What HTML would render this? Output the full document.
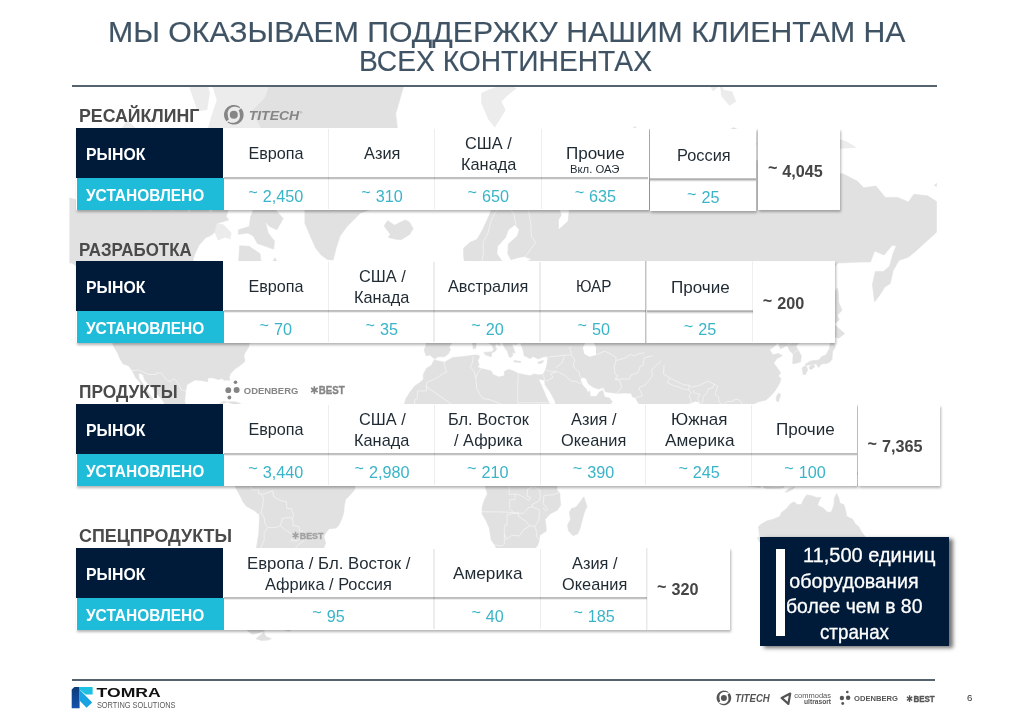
<!DOCTYPE html>
<html lang="ru"><head><meta charset="utf-8"><title>TOMRA Sorting Solutions</title>
<style>
html,body{margin:0;padding:0;background:#fff;}
body{width:1010px;height:716px;position:relative;overflow:hidden;font-family:"Liberation Sans",sans-serif;}
.t{position:absolute;white-space:pre;line-height:1;transform-origin:0 50%;}
.b{position:absolute;}
svg{position:absolute;left:0;top:0;}
</style></head><body>
<svg width="1010" height="716" viewBox="0 0 1010 716">
<defs><clipPath id="mc"><rect x="69.4" y="86.5" width="867.4" height="592.5"/></clipPath></defs>
<g clip-path="url(#mc)">
<path fill="#ececec" d="M214.0 231.1 L218.0 240.4 L224.8 237.4 L230.2 239.2 L231.6 233.0 L223.5 224.6 L217.2 223.3Z M132.6 195.8 L143.4 205.0 L157.0 203.5 L167.8 205.0 L174.6 197.4 L166.5 186.1 L165.1 170.4 L157.0 165.7 L146.1 172.2 L133.9 166.7 L128.5 175.8 L132.6 186.1Z M109.5 177.6 L116.3 184.4 L124.4 181.9 L129.9 171.3 L132.6 157.0 L121.7 153.0 L112.2 159.0Z M173.3 181.9 L184.1 183.6 L188.2 173.1 L186.8 160.9 L178.7 159.0 L171.9 168.5Z M190.9 177.6 L196.3 177.6 L205.8 168.5 L204.5 159.0 L190.9 159.0Z M200.4 151.9 L219.4 154.0 L233.0 153.0 L234.3 143.5 L222.1 133.4 L208.5 133.4 L200.4 140.2Z M132.6 148.8 L146.1 154.0 L162.4 150.9 L163.8 138.0 L154.3 128.8 L140.7 133.4 L131.2 135.7Z M167.8 146.7 L181.4 148.8 L185.5 138.0 L178.7 128.8 L167.8 131.1Z M205.8 135.7 L219.4 134.6 L233.0 135.7 L239.7 123.9 L243.8 107.2 L254.7 92.9 L270.9 72.3 L281.8 50.5 L265.5 29.7 L238.4 27.4 L211.3 44.5 L200.4 65.3 L211.3 82.1 L216.7 100.2 L211.3 116.4Z M189.6 88.4 L197.7 111.2 L207.2 109.9 L209.9 92.9 L203.1 68.8 L192.3 68.8Z M116.3 135.7 L128.5 141.3 L136.6 128.8 L127.2 120.2Z M227.5 134.6 L270.9 134.6 L292.6 50.5 L243.8 40.4Z M481.2 103.0 L488.0 119.0 L494.8 127.6 L500.2 119.0 L505.6 109.9 L501.5 101.6 L507.0 95.9 L516.5 88.4 L507.0 82.1 L496.1 86.9 L488.0 89.9 L481.2 92.9Z M705.0 78.9 L713.2 91.4 L721.3 83.7 L718.6 75.6 L721.3 95.9 L729.4 105.8 L736.2 101.6 L732.2 91.4 L724.0 89.9 L713.2 70.6Z M577.5 75.6 L591.1 85.3 L604.6 80.5 L618.2 72.3 L607.4 59.9 L585.6 68.8Z M821.7 145.6 L832.5 160.0 L840.7 148.8 L857.0 147.8 L846.1 141.3 L832.5 136.9Z"/>
<path fill="#e1e1e1" stroke="#e1e1e1" stroke-width="0.6" stroke-linejoin="round" d="M-5.8 225.9 L-0.4 207.2 L7.8 202.0 L25.4 183.6 L43.1 190.2 L67.5 197.4 L83.7 202.0 L94.6 194.2 L102.7 192.6 L110.9 198.2 L124.4 198.2 L138.0 209.4 L151.6 210.8 L157.0 205.7 L165.1 209.4 L173.3 210.8 L184.1 205.7 L189.6 213.0 L190.9 202.0 L189.6 186.1 L193.6 177.6 L197.7 186.1 L200.4 198.2 L205.8 205.7 L211.3 213.0 L214.0 203.5 L218.0 196.6 L227.5 195.8 L229.4 205.7 L226.2 216.5 L228.9 219.9 L222.1 221.9 L216.7 223.3 L214.0 233.0 L209.9 236.1 L205.8 237.4 L199.0 245.2 L195.0 253.8 L193.1 259.3 L193.6 265.7 L199.0 274.9 L208.5 277.3 L219.4 283.2 L226.7 284.6 L227.5 293.8 L231.6 301.3 L235.7 300.5 L235.7 286.9 L241.1 279.8 L242.5 269.8 L238.4 264.6 L239.7 245.8 L249.2 246.3 L260.1 253.8 L261.4 264.6 L265.5 268.3 L272.3 262.0 L275.0 257.7 L281.8 272.4 L287.2 282.2 L294.0 286.9 L298.1 296.1 L298.1 300.5 L289.9 305.6 L279.1 306.1 L269.6 306.1 L262.8 313.1 L257.4 320.0 L265.5 312.7 L270.9 310.2 L275.6 311.9 L273.7 317.2 L275.0 322.3 L283.2 323.9 L287.2 320.0 L285.9 324.7 L277.7 328.5 L272.0 332.7 L270.4 329.7 L275.0 325.8 L268.2 327.0 L260.1 331.9 L258.2 336.4 L260.1 339.3 L256.0 340.4 L249.2 343.3 L248.7 347.2 L245.2 352.4 L243.8 355.8 L244.9 361.5 L239.7 365.8 L234.9 369.1 L230.2 373.9 L229.2 377.7 L232.4 387.9 L232.4 393.0 L229.7 393.3 L225.6 385.4 L225.6 381.7 L222.1 378.6 L218.0 379.6 L212.6 377.7 L207.7 378.0 L207.7 381.7 L203.1 380.8 L195.0 379.9 L186.8 384.8 L185.5 392.4 L184.7 401.3 L186.3 407.2 L189.6 411.5 L193.6 413.8 L200.4 412.6 L203.7 410.6 L204.7 405.7 L214.0 404.3 L212.6 411.5 L210.7 415.8 L209.9 420.3 L216.7 420.6 L224.0 422.8 L223.2 429.8 L223.2 434.2 L226.7 439.2 L233.0 438.9 L235.7 438.1 L240.0 440.6 L240.3 442.5 L237.8 441.4 L234.3 439.8 L231.9 444.1 L228.1 442.2 L224.8 441.4 L219.4 436.7 L217.2 434.2 L212.6 428.4 L207.2 427.0 L201.8 425.6 L196.3 420.6 L192.3 419.7 L186.8 420.3 L179.2 417.8 L173.3 414.3 L166.5 410.9 L163.5 407.2 L164.3 402.8 L161.1 398.4 L155.6 392.4 L152.9 388.5 L148.9 384.8 L144.8 380.2 L142.9 374.5 L138.5 372.9 L139.1 378.6 L144.0 385.4 L148.0 392.4 L150.8 396.3 L152.9 399.3 L151.0 399.9 L146.1 394.5 L145.3 390.3 L139.9 386.4 L140.7 383.3 L135.8 377.7 L132.3 370.7 L128.5 365.8 L122.8 363.8 L119.3 357.2 L117.7 353.1 L114.1 347.2 L112.8 344.0 L113.0 334.5 L113.6 322.3 L111.7 313.5 L116.3 311.1 L110.9 305.6 L105.4 302.6 L102.7 296.1 L97.3 286.9 L93.2 282.2 L87.8 269.8 L82.4 263.6 L77.0 266.2 L71.5 263.0 L64.8 262.5 L59.3 259.3 L52.5 253.8 L47.1 258.2 L43.1 252.7 L39.0 262.0 L32.2 264.6 L26.8 272.4 L20.0 278.3 L11.9 283.6 L5.1 286.5 L10.5 279.8 L15.9 272.4 L21.3 266.7 L14.6 265.7 L10.5 262.0 L5.1 256.6 L-0.4 249.2 L2.4 242.2 L13.2 237.4 L13.2 232.4 L3.7 233.0Z M115.5 313.5 L110.9 311.9 L102.2 303.9 L108.2 305.2 L113.6 309.8Z M289.1 316.8 L298.1 320.0 L306.2 320.4 L307.0 316.8 L304.0 309.8 L299.4 307.7 L299.4 300.5 L295.4 302.6 L292.6 309.0 L289.4 313.1Z M283.2 218.6 L276.9 229.8 L269.6 226.6 L265.5 221.9 L268.2 233.0 L274.5 241.0 L273.7 249.2 L265.5 246.3 L257.4 243.4 L253.3 236.1 L247.9 233.0 L238.4 234.3 L238.4 229.8 L249.2 226.6 L250.6 216.5 L253.3 210.8 L246.5 205.7 L237.0 194.2 L227.5 195.0 L219.4 194.2 L211.3 190.2 L207.2 181.9 L208.5 168.5 L216.7 160.9 L227.5 161.9 L231.6 173.1 L241.1 173.1 L243.8 181.9 L254.7 181.9 L262.8 190.2 L266.9 202.0 L276.4 210.8Z M252.0 111.2 L265.5 135.7 L260.1 138.0 L270.9 141.3 L291.3 146.7 L299.4 173.1 L303.5 190.2 L311.6 195.8 L304.9 205.7 L304.9 223.3 L310.3 236.1 L315.7 248.1 L321.1 254.9 L327.9 259.8 L333.3 259.8 L336.1 248.1 L340.1 236.1 L346.9 226.6 L360.5 213.0 L376.7 207.2 L389.0 194.2 L383.5 181.9 L390.3 174.9 L393.0 154.0 L398.5 138.0 L395.7 113.8 L403.9 85.3 L417.4 59.9 L393.0 40.4 L363.2 18.1 L327.9 34.0 L300.8 44.5 L281.8 63.6 L270.9 82.1 L265.5 97.3Z M384.1 225.9 L390.3 234.3 L388.4 237.4 L395.7 239.2 L401.2 239.8 L409.8 234.3 L413.1 228.5 L409.3 221.9 L405.2 219.9 L399.8 222.6 L394.4 225.3 L391.7 223.3 L387.6 220.6Z M219.4 403.4 L225.4 400.4 L231.6 399.6 L239.7 403.4 L248.7 408.0 L239.7 408.9 L238.4 406.6 L231.6 403.4 L227.5 401.9 L222.1 403.4Z M248.2 413.2 L252.0 408.9 L256.0 408.9 L261.4 410.3 L264.4 412.6 L260.1 413.5 L255.5 415.2 L252.5 413.5Z M237.6 413.5 L241.1 412.9 L243.3 414.3 L239.7 414.9Z M267.7 412.9 L271.8 413.2 L271.5 414.3 L267.7 414.3Z M240.0 440.6 L241.6 442.2 L245.2 435.1 L248.7 433.7 L253.3 431.8 L256.0 430.1 L256.6 434.0 L254.9 438.1 L257.4 437.3 L260.1 432.3 L264.7 434.8 L270.9 435.1 L276.4 435.9 L281.8 434.8 L284.5 438.7 L287.2 440.9 L291.3 445.0 L295.4 448.0 L303.5 448.2 L308.9 451.5 L311.6 453.1 L314.4 459.1 L313.0 464.0 L318.4 465.4 L319.8 468.1 L327.9 468.1 L329.8 470.8 L337.4 471.9 L344.2 473.8 L349.6 477.0 L354.5 478.7 L355.6 484.4 L354.5 489.9 L349.6 495.4 L345.5 499.6 L344.2 506.6 L343.7 513.1 L341.5 519.4 L338.8 525.2 L336.1 528.1 L329.3 528.7 L326.6 531.7 L323.8 536.5 L325.7 543.2 L323.0 549.4 L315.7 555.7 L304.9 562.2 L300.8 565.1 L295.4 563.8 L291.6 562.2 L294.8 569.8 L293.2 576.3 L281.8 579.1 L281.0 585.4 L273.7 586.2 L276.4 591.6 L272.8 595.3 L272.3 601.0 L266.9 604.9 L271.5 612.0 L266.9 619.0 L262.8 625.4 L264.4 631.1 L257.4 633.3 L252.0 634.2 L246.5 629.7 L245.2 621.1 L245.2 610.8 L249.2 604.9 L250.6 595.3 L249.2 588.0 L250.6 580.8 L250.6 572.9 L253.3 565.5 L255.5 558.9 L256.0 551.0 L257.4 541.6 L258.7 534.1 L259.3 522.3 L259.3 514.8 L254.7 510.8 L246.5 506.3 L243.0 501.8 L240.6 496.8 L237.0 489.9 L233.5 483.6 L229.7 480.3 L229.4 475.7 L232.1 473.2 L230.5 470.0 L231.6 465.4 L233.0 461.8 L236.2 459.9 L237.0 456.9 L240.3 453.7 L239.7 449.1 L240.3 445.0Z M263.9 632.4 L258.7 636.5 L256.0 638.7 L261.4 640.6 L268.2 640.1 L271.5 638.7 L266.9 636.9 L265.0 635.1Z M284.0 628.4 L288.6 626.7 L293.2 628.0 L289.9 631.1 L285.0 630.6Z M434.0 359.9 L444.6 362.2 L452.7 357.5 L463.6 356.5 L474.4 355.1 L477.9 355.1 L479.8 356.5 L477.7 360.9 L479.3 365.2 L477.1 366.5 L480.4 368.4 L485.3 369.4 L491.2 371.0 L492.9 374.5 L498.8 377.0 L504.3 375.8 L504.3 371.6 L508.3 369.4 L512.9 370.7 L517.8 373.2 L524.6 374.8 L530.0 375.8 L534.1 373.9 L537.6 374.8 L542.8 374.5 L538.4 378.9 L541.2 384.8 L546.3 396.9 L550.4 405.7 L551.2 411.5 L554.7 414.3 L557.2 421.4 L561.8 424.2 L566.7 429.5 L567.5 432.6 L570.7 435.4 L577.5 433.4 L582.9 433.1 L588.9 431.5 L588.4 435.6 L585.1 442.2 L580.2 450.4 L574.8 457.2 L568.0 462.6 L562.6 468.9 L559.1 472.1 L556.6 477.0 L555.3 481.7 L557.2 485.8 L556.9 489.9 L559.9 493.2 L560.1 499.6 L560.7 505.2 L557.2 510.2 L550.4 513.7 L545.0 519.4 L546.0 525.8 L546.3 531.1 L539.5 535.6 L539.3 540.1 L537.6 545.6 L534.1 549.4 L530.8 554.1 L526.0 558.9 L519.7 562.2 L511.0 562.8 L504.3 564.8 L499.9 563.2 L499.4 557.3 L497.5 551.0 L494.8 545.0 L491.2 540.1 L489.3 528.1 L486.1 520.8 L482.0 513.7 L482.0 508.0 L483.9 501.0 L487.4 494.0 L485.8 488.5 L483.4 480.3 L482.0 476.2 L475.8 470.0 L474.4 466.2 L475.8 461.3 L476.6 455.9 L474.1 451.8 L469.0 452.1 L464.9 448.8 L461.9 446.9 L456.8 446.9 L452.7 448.0 L444.8 451.0 L439.1 449.9 L429.7 452.1 L425.6 450.4 L418.8 445.2 L413.9 440.9 L413.9 438.1 L409.3 434.5 L404.4 430.4 L404.4 427.9 L402.5 423.7 L405.2 420.0 L405.8 411.5 L403.9 405.7 L406.0 398.4 L409.8 392.4 L414.7 386.0 L419.3 383.0 L423.4 379.2 L423.4 373.9 L426.7 368.1 L431.6 365.2Z M583.8 496.8 L587.0 506.6 L584.3 512.2 L582.4 519.4 L579.7 529.6 L577.5 534.1 L572.9 535.6 L568.6 531.1 L567.5 525.2 L570.5 519.4 L569.4 512.2 L571.5 508.5 L576.2 506.9 L580.2 501.8Z M424.8 333.8 L426.1 338.2 L426.1 344.7 L424.2 350.0 L426.1 355.8 L429.9 355.1 L432.9 357.5 L434.8 359.2 L437.8 356.8 L444.3 356.8 L448.4 353.8 L450.5 349.6 L449.2 347.2 L452.2 341.8 L458.7 338.6 L458.4 333.8 L463.0 333.1 L467.6 334.2 L473.9 329.3 L477.9 332.7 L479.8 336.8 L484.2 340.4 L488.5 342.6 L492.3 345.4 L493.4 349.6 L492.3 352.4 L494.8 351.7 L496.7 348.9 L495.0 346.1 L496.1 343.6 L499.9 345.4 L500.2 343.6 L494.8 340.0 L493.4 338.6 L489.9 337.5 L486.9 332.3 L483.6 330.0 L483.4 325.8 L486.9 324.3 L487.2 327.4 L491.2 329.7 L494.8 333.1 L500.2 336.8 L502.6 339.7 L502.9 344.3 L504.8 347.9 L507.5 351.4 L508.9 356.5 L511.0 357.5 L512.9 354.8 L512.4 352.4 L515.1 353.1 L513.8 348.9 L511.9 344.0 L515.7 344.7 L520.5 342.6 L521.1 344.7 L523.3 350.7 L524.1 355.8 L526.5 356.8 L530.0 358.5 L533.3 356.5 L538.2 358.9 L543.6 356.8 L547.7 356.5 L547.4 362.5 L546.3 367.4 L544.7 371.6 L542.8 374.5 L538.4 378.9 L544.7 380.2 L545.0 384.8 L549.8 391.5 L554.5 399.9 L556.3 405.7 L560.7 411.5 L564.8 418.6 L566.7 425.6 L568.0 429.3 L572.1 429.0 L580.2 425.6 L591.1 421.4 L599.2 416.3 L606.0 411.5 L612.2 401.6 L609.5 398.1 L604.6 396.9 L602.7 390.3 L599.2 392.1 L596.5 396.3 L590.3 396.6 L589.7 390.9 L587.8 392.4 L586.2 389.1 L582.4 384.8 L580.2 379.2 L582.9 377.4 L586.2 378.6 L588.4 383.9 L593.2 387.3 L598.7 389.1 L603.3 387.6 L605.5 391.8 L611.4 392.7 L617.4 393.3 L625.0 393.0 L631.0 393.3 L632.6 396.9 L635.3 397.8 L637.7 401.9 L641.0 406.3 L646.1 405.7 L647.2 411.5 L648.9 418.6 L651.6 425.6 L654.3 432.6 L657.5 439.5 L660.3 442.0 L662.4 439.5 L665.1 435.9 L667.0 429.8 L667.6 422.8 L672.5 418.6 L677.9 413.5 L683.3 408.6 L686.0 404.3 L691.5 402.8 L695.5 401.3 L699.1 401.9 L700.4 406.3 L705.0 412.9 L706.1 420.0 L710.4 418.6 L714.5 418.6 L715.9 425.6 L717.2 434.0 L716.7 440.9 L721.3 446.3 L722.4 453.1 L724.8 456.7 L730.8 460.2 L732.7 457.2 L730.5 451.8 L727.3 447.1 L724.0 445.0 L721.3 440.9 L719.4 438.7 L721.3 429.8 L723.7 427.3 L726.7 429.8 L729.4 434.0 L734.3 435.9 L734.9 440.3 L739.5 435.9 L744.4 433.7 L746.5 428.4 L745.4 421.4 L741.6 417.2 L737.0 411.5 L739.5 406.3 L744.4 403.7 L747.9 404.3 L749.2 407.7 L753.3 404.0 L759.3 401.6 L766.1 399.9 L771.5 395.1 L775.0 390.9 L779.6 383.3 L781.0 378.6 L778.3 376.1 L780.7 372.9 L776.9 367.4 L773.7 363.2 L776.9 358.5 L782.3 355.8 L778.3 353.4 L772.8 354.8 L769.6 349.6 L773.4 347.2 L778.3 342.6 L780.4 348.9 L787.2 345.4 L789.7 350.7 L793.2 354.1 L792.7 363.8 L795.9 363.2 L800.5 361.9 L801.3 355.8 L798.6 350.7 L795.9 346.1 L801.9 340.0 L804.6 336.8 L809.5 333.8 L817.6 328.9 L824.4 319.2 L830.6 309.0 L831.7 298.3 L833.3 292.5 L829.0 288.3 L823.0 289.3 L817.1 285.5 L823.0 277.3 L831.2 269.8 L838.0 263.0 L848.8 262.5 L861.0 262.0 L870.5 262.0 L874.6 251.0 L884.1 254.9 L892.2 245.2 L896.3 245.8 L893.0 253.8 L889.5 266.2 L883.5 271.4 L875.4 271.4 L872.4 284.6 L874.6 301.8 L880.0 294.7 L884.9 286.9 L890.3 283.6 L893.0 270.8 L899.0 260.4 L908.5 257.1 L916.6 250.4 L924.8 242.8 L932.9 235.5 L941.1 227.9 L951.9 231.7 L960.0 234.3 L966.3 223.3 L960.0 216.5 L951.9 212.3 L939.7 203.5 L927.5 195.8 L913.9 194.2 L908.5 202.0 L897.6 197.4 L885.4 197.4 L875.9 186.1 L863.7 187.8 L857.0 181.0 L843.4 174.0 L829.8 172.2 L819.0 181.9 L806.8 186.1 L801.3 179.3 L794.6 163.8 L782.3 168.5 L770.1 162.9 L757.9 160.9 L751.1 157.0 L756.6 143.5 L748.4 134.6 L733.5 127.6 L721.3 134.6 L707.7 136.9 L688.7 144.6 L684.7 159.0 L669.8 162.9 L668.4 174.9 L658.9 177.6 L652.1 170.4 L647.5 184.4 L644.8 170.4 L637.2 168.5 L631.8 186.1 L630.4 199.7 L635.3 206.5 L625.0 199.7 L614.1 195.8 L607.4 203.5 L597.9 207.2 L589.7 205.7 L576.2 207.9 L569.9 205.7 L568.0 221.3 L558.5 229.8 L558.5 219.9 L561.2 215.1 L559.9 210.8 L549.0 200.5 L539.5 198.2 L534.1 191.8 L527.3 186.1 L519.7 185.3 L509.7 191.8 L501.5 195.8 L493.4 205.7 L488.0 217.9 L482.6 229.8 L477.1 239.2 L470.3 242.2 L463.6 248.1 L463.6 256.6 L464.9 264.6 L469.0 269.8 L473.1 268.3 L478.5 263.0 L480.4 265.7 L482.6 272.4 L484.7 279.8 L485.3 282.7 L488.8 281.7 L493.4 278.3 L495.0 272.4 L497.5 265.7 L501.5 260.4 L496.9 253.8 L497.5 246.3 L505.6 237.4 L508.3 229.8 L515.1 224.6 L519.2 229.8 L517.3 236.1 L508.3 244.0 L507.8 253.8 L511.0 259.8 L517.8 257.7 L524.6 256.6 L531.4 259.3 L526.0 262.0 L515.1 262.5 L513.8 269.8 L515.9 273.4 L508.3 272.4 L507.0 282.2 L503.7 287.4 L499.6 285.5 L488.8 289.3 L479.8 289.3 L477.1 285.5 L479.3 278.8 L478.5 271.9 L472.2 274.9 L472.2 282.2 L473.9 289.3 L469.0 291.5 L463.6 292.5 L461.4 298.3 L458.7 301.3 L454.6 302.6 L454.1 306.5 L450.0 309.0 L446.5 308.2 L445.7 312.3 L437.5 313.1 L438.3 316.0 L443.2 318.0 L446.7 323.1 L445.9 332.7 L440.5 332.7 L433.7 332.3 L428.3 331.9Z M435.6 306.9 L440.5 305.2 L447.3 303.9 L453.3 301.8 L454.3 295.2 L450.5 292.9 L449.5 287.9 L445.9 283.6 L444.6 279.8 L442.4 277.8 L444.6 271.9 L439.7 271.4 L441.3 266.7 L436.4 266.7 L434.3 272.4 L435.1 279.8 L436.4 284.6 L440.5 285.1 L441.9 290.2 L437.8 292.9 L438.6 297.4 L435.9 299.2 L440.5 300.9 L437.8 302.2Z M433.2 297.4 L433.7 291.5 L434.8 286.5 L432.4 283.6 L427.8 284.1 L422.9 288.3 L423.4 292.5 L422.1 298.3 L424.2 300.5 L428.3 299.2Z M589.7 179.3 L595.1 187.8 L606.0 189.4 L600.6 173.1 L604.6 159.0 L615.5 143.5 L634.5 132.3 L635.8 126.4 L623.6 133.4 L607.4 142.4 L599.2 159.0 L592.4 173.1Z M934.3 185.3 L939.7 187.8 L945.1 183.6 L939.7 181.0Z M835.2 323.1 L839.3 320.0 L837.4 315.2 L842.0 310.2 L838.8 302.6 L838.5 293.8 L837.4 287.9 L835.2 291.5 L834.7 300.5 L835.5 311.1 L835.2 317.2Z M829.8 340.0 L833.1 338.9 L832.5 336.0 L838.8 338.2 L844.7 333.4 L841.5 330.8 L835.2 325.5 L833.9 333.4 L830.6 334.5Z M805.1 365.8 L809.5 364.8 L816.3 363.8 L818.4 367.4 L821.7 363.8 L826.6 363.5 L829.8 361.9 L832.0 359.2 L832.5 351.4 L835.2 347.2 L833.6 340.8 L830.4 342.6 L829.3 348.9 L825.8 355.1 L821.7 356.5 L819.0 359.9 L810.8 360.9 L805.4 364.2Z M802.1 368.4 L803.2 374.5 L805.4 374.5 L807.6 370.0 L806.8 366.8 L803.5 366.5Z M808.9 368.1 L810.8 369.7 L814.9 366.8 L813.5 364.8 L810.3 365.8Z M778.3 393.3 L780.7 394.5 L778.3 401.9 L776.1 400.4 L776.4 396.9Z M744.9 410.9 L749.8 408.6 L751.1 410.0 L748.4 413.2 L745.2 412.9Z M666.5 437.6 L670.3 440.9 L671.9 445.0 L669.8 447.4 L667.0 447.7 L666.2 442.2Z M776.9 412.9 L781.5 413.2 L781.0 418.6 L779.6 422.8 L785.1 426.2 L786.4 429.3 L782.3 426.5 L778.3 426.2 L776.4 423.4 L775.6 420.0Z M781.0 445.0 L785.1 440.6 L790.5 437.6 L793.2 442.2 L792.4 446.9 L790.2 448.5 L786.4 446.9 L785.1 443.6Z M784.5 435.4 L787.8 432.6 L790.5 429.8 L790.8 434.0 L788.6 436.7 L785.9 437.3Z M768.0 441.1 L774.2 435.4 L774.7 433.4 L771.5 437.3Z M708.5 448.8 L714.5 449.9 L722.1 456.4 L730.8 464.0 L733.5 469.4 L737.6 472.1 L737.0 479.8 L733.0 479.2 L727.3 474.9 L722.7 468.1 L718.0 461.3 L713.2 455.0Z M735.4 482.5 L739.5 480.3 L744.4 482.2 L750.6 481.4 L755.8 482.8 L760.6 485.2 L760.4 487.7 L752.5 486.6 L743.0 485.2 L738.7 484.1Z M745.7 459.9 L748.4 459.4 L752.0 457.2 L756.6 455.3 L760.6 451.2 L764.7 447.7 L766.9 445.0 L769.3 446.6 L773.4 449.6 L770.1 452.3 L769.3 455.9 L770.1 461.3 L768.8 466.2 L766.1 470.8 L764.7 474.9 L760.9 474.9 L756.6 472.7 L753.0 473.0 L749.0 471.6 L748.4 467.5 L746.3 465.4 L745.7 462.6Z M775.0 461.8 L777.7 460.5 L783.7 461.6 L789.1 459.7 L787.2 462.9 L779.6 462.6 L776.1 466.2 L779.1 466.7 L784.2 466.4 L780.4 469.2 L783.2 474.9 L781.8 478.4 L779.6 476.8 L778.3 471.3 L776.4 472.1 L776.6 478.9 L774.2 478.7 L774.2 473.5 L772.3 471.3 L775.0 464.5Z M785.1 492.1 L789.1 488.5 L794.6 486.9 L793.2 489.1 L787.8 491.8Z M763.4 486.6 L767.4 486.6 L772.8 486.9 L778.3 486.9 L783.7 486.6 L783.2 488.0 L775.6 488.5 L767.4 488.5 L763.9 488.0Z M795.9 458.6 L797.3 461.8 L799.2 460.5 L797.3 466.2 L796.5 464.0Z M805.4 459.9 L809.5 458.8 L813.5 459.9 L814.1 464.5 L816.8 466.7 L821.7 462.6 L825.8 462.6 L832.5 464.8 L839.3 467.0 L845.6 470.2 L846.6 473.5 L851.0 474.9 L850.2 478.1 L854.2 482.2 L858.3 485.8 L854.2 486.0 L848.8 483.6 L844.7 479.5 L840.1 479.5 L838.0 482.8 L832.5 482.5 L829.3 479.8 L824.4 480.3 L826.6 476.8 L824.4 472.7 L817.6 469.7 L812.2 468.1 L810.3 465.6 L813.5 464.0 L809.5 464.8 L805.9 461.8Z M852.9 472.7 L858.3 472.7 L862.4 469.2 L863.2 471.3 L859.7 474.6 L854.2 474.6Z M758.5 526.7 L759.8 537.1 L757.4 537.7 L761.2 544.7 L763.4 554.1 L762.0 562.8 L769.6 565.5 L775.6 561.9 L785.1 561.9 L791.8 556.7 L800.0 554.4 L805.9 554.1 L812.7 556.4 L816.8 564.2 L819.0 564.8 L823.6 558.9 L823.9 567.1 L828.5 568.1 L831.2 575.6 L839.3 578.0 L843.4 576.3 L846.9 579.4 L851.5 574.9 L857.0 573.2 L859.1 565.5 L860.5 560.6 L864.3 555.7 L866.4 544.7 L865.4 537.1 L861.0 531.1 L858.8 526.7 L855.1 523.7 L852.9 519.4 L846.9 516.5 L845.3 509.4 L843.9 504.6 L839.9 503.2 L838.8 498.2 L836.6 493.5 L834.4 498.2 L833.9 505.2 L831.2 512.2 L827.6 512.2 L823.0 508.0 L817.6 505.2 L819.0 501.0 L821.1 497.4 L816.3 497.4 L810.8 495.4 L806.8 494.9 L804.0 498.7 L801.3 504.6 L797.3 504.6 L794.0 501.8 L790.5 503.8 L786.4 508.8 L781.8 512.2 L779.6 516.5 L772.8 519.4 L766.6 521.1 L760.6 524.6Z M842.6 585.1 L847.5 586.5 L852.3 585.8 L852.1 590.5 L848.8 595.7 L845.6 594.6 L843.9 589.8Z M918.5 563.8 L923.4 569.8 L926.9 571.5 L930.2 574.9 L934.3 574.9 L930.2 580.8 L929.7 584.4 L925.3 588.3 L924.2 582.6 L921.5 580.1 L924.2 575.6 L923.4 571.5 L919.3 566.1Z M918.5 584.7 L922.6 588.0 L919.3 593.5 L914.5 598.3 L912.6 604.5 L907.1 607.2 L901.7 604.1 L906.3 598.0 L912.6 593.5 L916.6 588.0Z M483.9 352.4 L492.1 351.7 L491.2 356.8 L485.3 354.8Z M472.5 341.8 L476.0 341.5 L476.0 348.2 L473.1 348.9Z M473.6 336.0 L475.5 334.5 L475.8 339.7 L473.9 340.0Z M514.0 360.5 L521.1 361.5 L520.5 362.5 L514.0 361.9Z M537.6 362.5 L540.9 361.2 L543.9 360.5 L541.7 363.2 L538.4 363.5Z M26.8 411.5 L29.5 410.0 L28.9 408.0 L26.8 409.2Z M594.9 429.8 L597.9 429.5 L596.0 430.4Z M480.4 283.2 L484.2 280.3 L483.1 285.1Z M499.4 273.9 L501.5 270.3 L501.0 273.9Z"/>
<path fill="#fff" d="M526.0 340.0 L528.1 332.7 L530.6 326.2 L534.1 320.8 L539.5 323.1 L541.4 328.9 L549.0 325.8 L553.6 320.0 L551.7 325.1 L554.5 329.3 L562.6 335.7 L562.6 340.0 L555.8 341.8 L549.0 340.8 L545.0 338.2 L539.5 338.2 L534.9 341.1 L530.0 341.1Z M578.9 328.9 L582.9 322.0 L589.7 319.6 L593.8 325.8 L589.2 328.9 L587.0 336.4 L592.4 340.0 L596.0 347.2 L596.0 355.1 L589.7 356.8 L584.3 354.1 L582.9 347.2 L585.1 343.6 L581.6 338.2Z"/>
<path fill="none" stroke="#f7f7f7" stroke-width="0.7" stroke-linejoin="round" d="M132.3 370.7 L138.8 370.0 L148.9 374.5 L156.5 374.5 L156.5 372.9 L161.1 372.9 L166.5 379.9 L170.6 381.7 L171.9 379.2 L174.9 379.2 L180.1 386.4 L181.1 389.7 L186.3 391.2 M444.0 362.2 L445.4 369.1 L446.7 371.6 L440.2 375.5 L435.1 378.9 L426.4 382.7 L426.4 387.0 M426.4 385.7 L426.4 390.9 L417.4 390.9 L417.4 398.4 L414.7 399.9 L414.7 404.8 L403.9 404.8 M426.4 387.0 L437.0 393.9 L453.3 405.4 L458.7 409.2 M473.3 356.2 L472.2 363.5 L470.3 366.5 L474.4 372.0 L475.8 378.0 M481.2 368.4 L477.9 372.9 L475.8 378.0 L476.9 389.4 L482.6 398.4 M518.4 373.6 L517.8 381.1 L517.8 402.8 L550.1 402.8 M482.6 398.4 L490.7 399.9 L515.1 410.0 L515.1 408.6 L517.8 408.6 L517.8 402.8 M543.1 374.5 L544.7 380.2 M546.6 370.0 L549.8 371.3 L555.8 371.3 L556.3 372.0 L550.4 373.9 L553.1 377.0 L551.7 378.6 L549.6 378.9 L547.7 381.1 L545.0 380.5 M547.7 359.2 L549.6 356.5 L554.5 356.5 L564.8 355.1 L571.5 355.1 M564.8 355.1 L561.8 363.2 L555.3 367.8 M555.8 371.3 L559.6 372.6 L564.2 375.1 L571.3 381.1 L576.2 381.4 L579.4 383.3 L581.3 383.3 M571.5 355.1 L574.8 359.9 L573.2 365.8 L575.3 368.4 L579.7 372.9 L579.4 375.5 L581.9 378.9 M571.5 355.1 L570.7 351.0 L569.4 347.5 L571.5 346.5 M596.2 354.8 L602.5 352.0 L605.2 351.4 L610.9 354.1 L616.0 357.2 L615.8 361.5 L614.1 366.8 L615.2 373.9 L617.7 375.5 L615.2 379.2 M615.2 379.2 L619.6 380.5 L621.7 387.3 L620.4 389.1 L617.1 393.3 M615.2 379.2 L629.9 378.9 L631.0 374.8 L638.0 372.6 L639.9 366.8 L642.9 365.5 L644.3 357.8 L652.4 355.8 M616.0 360.5 L625.0 358.2 L630.4 354.5 L634.5 355.8 L638.6 353.8 L644.3 352.7 M635.0 397.8 L642.6 395.7 L638.8 387.9 L645.3 384.8 L650.5 378.6 L652.4 375.1 L651.6 369.7 L661.1 360.9 M664.1 364.8 L663.5 373.9 L669.8 378.0 L677.9 382.0 L683.3 384.8 L689.0 385.1 L691.5 387.0 L699.6 385.4 L707.7 381.1 L714.2 384.2 M669.8 378.0 L667.3 382.4 L672.5 385.1 L677.9 386.7 L683.3 389.1 L689.0 389.7 L689.0 385.1 M689.0 389.7 L691.2 393.3 L689.0 395.4 L690.9 400.1 L691.5 403.1 M701.2 404.8 L697.4 398.4 L700.1 394.2 L693.6 393.0 L693.6 390.3 M701.2 404.8 L702.9 401.9 L703.1 396.9 L706.6 393.3 L708.3 388.8 L713.4 387.6 L714.2 384.2 M714.2 384.2 L717.8 386.4 L714.8 394.5 L718.3 396.6 L719.1 402.2 L722.1 404.3 L724.6 404.0 M724.6 404.0 L727.3 401.6 L731.9 401.3 L736.0 399.0 L739.5 400.1 L743.0 404.3 M793.7 352.7 L798.3 350.3 M787.5 345.4 L791.8 341.8 L797.3 340.0 L804.3 336.8 M483.4 480.3 L485.8 480.0 L495.0 480.0 L496.1 484.1 L502.6 485.8 L509.1 483.9 L509.1 494.6 L515.1 494.0 L515.1 499.6 L509.7 499.6 L509.7 508.5 L513.5 512.5 M482.0 511.7 L488.0 511.9 L499.9 511.9 L513.5 512.5 L518.6 513.1 M507.0 514.5 L507.0 525.2 L504.3 525.2 L504.3 533.5 L504.3 544.4 M494.8 545.0 L497.2 545.3 L501.5 546.0 L504.3 544.4 M504.3 533.5 L506.4 539.5 L511.6 535.3 L519.5 535.9 L523.0 530.2 L529.8 525.8 M518.6 513.1 L518.4 516.2 L525.2 520.8 L529.8 525.8 M507.0 514.5 L513.8 513.7 L518.6 513.1 M518.6 513.1 L523.3 513.4 L528.4 507.7 L532.5 506.9 M515.1 494.0 L518.6 494.6 L524.3 497.6 L528.7 500.7 L530.8 497.4 L527.0 496.2 L527.6 489.3 L533.6 486.3 M533.6 486.3 L539.3 489.6 L540.1 493.5 L540.3 498.2 L538.7 501.2 L531.9 504.6 L532.5 506.9 M532.5 506.9 L539.3 510.0 L539.3 515.1 L538.7 520.8 L534.9 526.4 L529.8 525.8 M534.9 526.4 L536.8 532.6 L536.5 536.8 L539.3 539.5 M543.9 495.7 L547.4 495.1 L552.6 494.9 L559.6 492.4 M543.9 495.7 L543.3 503.5 L547.4 509.4 L545.8 511.1 L543.1 508.0 M529.8 476.2 L530.3 481.7 L533.6 486.3 M542.0 466.7 L552.3 472.4 L556.3 476.8 M260.1 475.7 L252.0 478.9 L249.2 484.4 L252.5 489.9 L258.7 489.9 L258.5 494.0 L261.4 494.0 M261.4 494.0 L264.2 494.0 L272.8 490.7 L273.7 496.8 L281.8 501.0 L286.4 501.5 L286.9 508.5 L291.8 508.8 L292.1 512.2 L293.7 513.7 L292.6 518.8 M261.4 494.0 L263.3 498.2 L262.8 505.2 L261.2 512.2 L259.0 514.5 M261.2 512.2 L264.2 518.0 L265.0 523.7 L267.7 527.6 M292.6 518.8 L289.7 517.4 L282.6 518.2 L280.2 525.8 L275.6 527.6 L267.7 527.6 M292.6 518.8 L293.2 525.5 L298.9 526.4 L299.7 531.1 L302.7 531.1 L301.9 535.9 M280.2 525.8 L287.2 531.1 L293.7 535.3 L291.0 540.7 L298.1 541.0 L301.9 535.9 M301.9 535.9 L304.0 540.7 L298.6 544.4 L293.7 550.0 L299.2 552.2 L305.1 561.2 M267.7 527.6 L264.2 532.6 L264.2 540.1 L260.1 549.4 L260.1 558.9 L258.7 568.8 L257.4 579.1 L255.2 589.8 L255.5 601.0 L253.3 612.8 L253.3 623.2 L256.0 629.7 M481.2 264.6 L483.4 253.8 L483.1 242.2 L488.0 233.0 L490.7 221.9 L494.8 213.0 L500.2 205.7 L505.6 202.0 M515.7 224.6 L514.0 214.4 L505.6 202.0 L519.7 201.2 L520.5 194.2 L526.0 193.4 L528.7 197.4 M525.4 256.6 L531.4 248.1 L535.5 242.8 L531.4 236.1 L530.8 223.3 L528.7 211.6 L527.3 202.7 L528.7 197.4 L533.6 195.8"/>

</g></svg>
<span class="t" style="left:107.50px;top:17.75px;font-size:29px;color:#3f5364;transform:scaleX(1.0421);-webkit-text-stroke:0.15px #3f5364;">МЫ ОКАЗЫВАЕМ ПОДДЕРЖКУ НАШИМ КЛИЕНТАМ НА</span>
<span class="t" style="left:358.90px;top:47.25px;font-size:29px;color:#3f5364;transform:scaleX(0.9722);-webkit-text-stroke:0.15px #3f5364;">ВСЕХ КОНТИНЕНТАХ</span>
<div class="b " style="left:71.5px;top:85.3px;width:865.0px;height:1.4000000000000057px;background:#55636e;"></div>
<div class="b " style="left:71.5px;top:679.4px;width:863.5px;height:1.3999999999999773px;background:#55636e;"></div>
<span class="t" style="left:78.90px;top:107.79px;font-size:17.5px;color:#4a4a4a;font-weight:bold;transform:scaleX(1.0129);">РЕСАЙКЛИНГ</span>
<div class="b " style="left:758px;top:129.0px;width:82px;height:80.94999999999999px;background:#fff;box-shadow:1px 2px 2.4px rgba(0,0,0,.29);"></div>
<div class="b " style="left:76px;top:127.5px;width:572.5px;height:82.0px;background:#fff;box-shadow:1px 2px 2.4px rgba(0,0,0,.29);"></div>
<div class="b " style="left:650px;top:129.0px;width:105.5px;height:82.0px;background:#fff;box-shadow:1px 2px 2.4px rgba(0,0,0,.29);"></div>
<div class="b " style="left:758px;top:129.0px;width:82px;height:80.94999999999999px;background:#fff;"></div>
<div class="b " style="left:76px;top:127.5px;width:572.5px;height:82.0px;background:#fff;"></div>
<div class="b " style="left:650px;top:129.0px;width:105.5px;height:82.0px;background:#fff;"></div>
<div class="b " style="left:76.6px;top:177.5px;width:147.0px;height:32.0px;background:#1fbcda;"></div>
<div class="b " style="left:76.1px;top:127.5px;width:146.8px;height:50.099999999999994px;background:#001b3a;"></div>
<div class="b " style="left:223.6px;top:176.9px;width:424.9px;height:3.1999999999999886px;background:linear-gradient(rgba(0,0,0,.14),rgba(0,0,0,.36) 30%,rgba(0,0,0,.16) 62%,rgba(0,0,0,0));"></div>
<div class="b " style="left:650px;top:178.4px;width:105.5px;height:3.1999999999999886px;background:linear-gradient(rgba(0,0,0,.14),rgba(0,0,0,.36) 30%,rgba(0,0,0,.16) 62%,rgba(0,0,0,0));"></div>
<div class="b " style="left:327.9px;top:128.5px;width:1.2000000000000455px;height:80.0px;background:rgba(0,0,0,.07);"></div>
<div class="b " style="left:433.79999999999995px;top:128.5px;width:1.2000000000000455px;height:80.0px;background:rgba(0,0,0,.07);"></div>
<div class="b " style="left:540.6999999999999px;top:128.5px;width:1.2000000000000455px;height:80.0px;background:rgba(0,0,0,.07);"></div>
<div class="b " style="left:648.8px;top:129.0px;width:1.5px;height:80.5px;background:linear-gradient(90deg,rgba(0,0,0,.30),rgba(0,0,0,.05));"></div>
<div class="b " style="left:757.0px;top:129.0px;width:1.3999999999999773px;height:80.5px;background:linear-gradient(90deg,rgba(0,0,0,.22),rgba(0,0,0,.02));"></div>
<span class="t" style="left:85.60px;top:145.59px;font-size:16.2px;color:#fff;font-weight:bold;transform:scaleX(0.9778);">РЫНОК</span>
<span class="t" style="left:86.30px;top:187.29px;font-size:16.2px;color:#fff;font-weight:bold;transform:scaleX(0.9547);">УСТАНОВЛЕНО</span>
<span class="t" style="left:248.45px;top:145.39px;font-size:16.2px;color:#1f2a33;">Европа</span>
<span class="t" style="left:248.25px;top:184.49px;font-size:16.2px;color:#3ab4c8;">~</span>
<span class="t" style="left:262.71px;top:187.79px;font-size:16.2px;color:#3ab4c8;">2,450</span>
<span class="t" style="left:363.94px;top:145.39px;font-size:16.2px;color:#1f2a33;transform:scaleX(1.0100);">Азия</span>
<span class="t" style="left:361.20px;top:184.49px;font-size:16.2px;color:#3ab4c8;">~</span>
<span class="t" style="left:375.67px;top:187.79px;font-size:16.2px;color:#3ab4c8;">310</span>
<span class="t" style="left:465.14px;top:134.89px;font-size:16.2px;color:#1f2a33;transform:scaleX(1.0100);">США /</span>
<span class="t" style="left:460.84px;top:156.09px;font-size:16.2px;color:#1f2a33;transform:scaleX(1.0100);">Канада</span>
<span class="t" style="left:467.60px;top:184.49px;font-size:16.2px;color:#3ab4c8;">~</span>
<span class="t" style="left:482.07px;top:187.79px;font-size:16.2px;color:#3ab4c8;">650</span>
<span class="t" style="left:566.20px;top:145.09px;font-size:16.2px;color:#1f2a33;transform:scaleX(1.0536);">Прочие</span>
<span class="t" style="left:569.85px;top:165.23px;font-size:10px;color:#1f2a33;transform:scaleX(1.1315);">Вкл. ОАЭ</span>
<span class="t" style="left:574.65px;top:184.49px;font-size:16.2px;color:#3ab4c8;">~</span>
<span class="t" style="left:589.12px;top:187.79px;font-size:16.2px;color:#3ab4c8;">635</span>
<span class="t" style="left:676.62px;top:146.89px;font-size:16.2px;color:#1f2a33;transform:scaleX(1.0100);">Россия</span>
<span class="t" style="left:687.01px;top:185.99px;font-size:16.2px;color:#3ab4c8;">~</span>
<span class="t" style="left:701.47px;top:189.29px;font-size:16.2px;color:#3ab4c8;">25</span>
<span class="t" style="left:767.90px;top:159.49px;font-size:16.2px;color:#454545;font-weight:bold;">~</span>
<span class="t" style="left:782.36px;top:162.79px;font-size:16.2px;color:#454545;font-weight:bold;">4,045</span>
<span class="t" style="left:78.90px;top:241.59px;font-size:17.5px;color:#4a4a4a;font-weight:bold;transform:scaleX(0.9656);">РАЗРАБОТКА</span>
<div class="b " style="left:752.8px;top:261.2px;width:82.20000000000005px;height:81.50999999999999px;background:#fff;box-shadow:1px 2px 2.4px rgba(0,0,0,.29);"></div>
<div class="b " style="left:76px;top:260.5px;width:570.5px;height:82.0px;background:#fff;box-shadow:1px 2px 2.4px rgba(0,0,0,.29);"></div>
<div class="b " style="left:646.5px;top:261.0px;width:106.0px;height:82.0px;background:#fff;box-shadow:1px 2px 2.4px rgba(0,0,0,.29);"></div>
<div class="b " style="left:752.8px;top:261.2px;width:82.20000000000005px;height:81.50999999999999px;background:#fff;"></div>
<div class="b " style="left:76px;top:260.5px;width:570.5px;height:82.0px;background:#fff;"></div>
<div class="b " style="left:646.5px;top:261.0px;width:106.0px;height:82.0px;background:#fff;"></div>
<div class="b " style="left:76.6px;top:310.5px;width:147.0px;height:32.0px;background:#1fbcda;"></div>
<div class="b " style="left:76.1px;top:260.5px;width:146.8px;height:50.10000000000002px;background:#001b3a;"></div>
<div class="b " style="left:223.6px;top:309.9px;width:422.9px;height:3.2000000000000455px;background:linear-gradient(rgba(0,0,0,.14),rgba(0,0,0,.36) 30%,rgba(0,0,0,.16) 62%,rgba(0,0,0,0));"></div>
<div class="b " style="left:646.5px;top:310.4px;width:106.0px;height:3.2000000000000455px;background:linear-gradient(rgba(0,0,0,.14),rgba(0,0,0,.36) 30%,rgba(0,0,0,.16) 62%,rgba(0,0,0,0));"></div>
<div class="b " style="left:327.9px;top:261.5px;width:1.2000000000000455px;height:80.0px;background:rgba(0,0,0,.07);"></div>
<div class="b " style="left:433.4px;top:261.5px;width:1.2000000000000455px;height:80.0px;background:rgba(0,0,0,.07);"></div>
<div class="b " style="left:539.4px;top:261.5px;width:1.2000000000000455px;height:80.0px;background:rgba(0,0,0,.07);"></div>
<div class="b " style="left:645.3px;top:261.0px;width:1.5px;height:81.5px;background:linear-gradient(90deg,rgba(0,0,0,.30),rgba(0,0,0,.05));"></div>
<div class="b " style="left:751.8px;top:261.2px;width:1.3999999999999773px;height:81.30000000000001px;background:linear-gradient(90deg,rgba(0,0,0,.11),rgba(0,0,0,.02));"></div>
<span class="t" style="left:85.60px;top:278.59px;font-size:16.2px;color:#fff;font-weight:bold;transform:scaleX(0.9778);">РЫНОК</span>
<span class="t" style="left:86.30px;top:320.29px;font-size:16.2px;color:#fff;font-weight:bold;transform:scaleX(0.9547);">УСТАНОВЛЕНО</span>
<span class="t" style="left:248.45px;top:278.39px;font-size:16.2px;color:#1f2a33;">Европа</span>
<span class="t" style="left:259.51px;top:317.49px;font-size:16.2px;color:#3ab4c8;">~</span>
<span class="t" style="left:273.97px;top:320.79px;font-size:16.2px;color:#3ab4c8;">70</span>
<span class="t" style="left:358.54px;top:267.89px;font-size:16.2px;color:#1f2a33;transform:scaleX(1.0100);">США /</span>
<span class="t" style="left:354.24px;top:289.09px;font-size:16.2px;color:#1f2a33;transform:scaleX(1.0100);">Канада</span>
<span class="t" style="left:365.51px;top:317.49px;font-size:16.2px;color:#3ab4c8;">~</span>
<span class="t" style="left:379.97px;top:320.79px;font-size:16.2px;color:#3ab4c8;">35</span>
<span class="t" style="left:447.50px;top:278.39px;font-size:16.2px;color:#1f2a33;transform:scaleX(1.0044);">Австралия</span>
<span class="t" style="left:471.26px;top:317.49px;font-size:16.2px;color:#3ab4c8;">~</span>
<span class="t" style="left:485.72px;top:320.79px;font-size:16.2px;color:#3ab4c8;">20</span>
<span class="t" style="left:576.20px;top:278.39px;font-size:16.2px;color:#1f2a33;transform:scaleX(0.9482);">ЮАР</span>
<span class="t" style="left:577.51px;top:317.49px;font-size:16.2px;color:#3ab4c8;">~</span>
<span class="t" style="left:591.97px;top:320.79px;font-size:16.2px;color:#3ab4c8;">50</span>
<span class="t" style="left:670.80px;top:278.89px;font-size:16.2px;color:#1f2a33;transform:scaleX(1.0536);">Прочие</span>
<span class="t" style="left:683.76px;top:317.99px;font-size:16.2px;color:#3ab4c8;">~</span>
<span class="t" style="left:698.22px;top:321.29px;font-size:16.2px;color:#3ab4c8;">25</span>
<span class="t" style="left:762.70px;top:291.69px;font-size:16.2px;color:#454545;font-weight:bold;">~</span>
<span class="t" style="left:777.16px;top:294.99px;font-size:16.2px;color:#454545;font-weight:bold;">200</span>
<span class="t" style="left:78.90px;top:384.19px;font-size:17.5px;color:#4a4a4a;font-weight:bold;transform:scaleX(0.9869);">ПРОДУКТЫ</span>
<div class="b " style="left:857.6px;top:404.5px;width:82.39999999999998px;height:81.30000000000001px;background:#fff;box-shadow:1px 2px 2.4px rgba(0,0,0,.29);"></div>
<div class="b " style="left:76px;top:403.5px;width:781.4px;height:82.0px;background:#fff;box-shadow:1px 2px 2.4px rgba(0,0,0,.29);"></div>
<div class="b " style="left:857.6px;top:404.5px;width:82.39999999999998px;height:81.30000000000001px;background:#fff;"></div>
<div class="b " style="left:76px;top:403.5px;width:781.4px;height:82.0px;background:#fff;"></div>
<div class="b " style="left:76.6px;top:453.5px;width:147.0px;height:32.0px;background:#1fbcda;"></div>
<div class="b " style="left:76.1px;top:403.5px;width:146.8px;height:50.10000000000002px;background:#001b3a;"></div>
<div class="b " style="left:223.6px;top:452.9px;width:633.8px;height:3.2000000000000455px;background:linear-gradient(rgba(0,0,0,.14),rgba(0,0,0,.36) 30%,rgba(0,0,0,.16) 62%,rgba(0,0,0,0));"></div>
<div class="b " style="left:327.9px;top:404.5px;width:1.2000000000000455px;height:80.0px;background:rgba(0,0,0,.07);"></div>
<div class="b " style="left:433.79999999999995px;top:404.5px;width:1.2000000000000455px;height:80.0px;background:rgba(0,0,0,.07);"></div>
<div class="b " style="left:539.6999999999999px;top:404.5px;width:1.2000000000000455px;height:80.0px;background:rgba(0,0,0,.07);"></div>
<div class="b " style="left:645.1999999999999px;top:404.5px;width:1.2000000000000455px;height:80.0px;background:rgba(0,0,0,.07);"></div>
<div class="b " style="left:750.9px;top:404.5px;width:1.2000000000000455px;height:80.0px;background:rgba(0,0,0,.07);"></div>
<div class="b " style="left:856.6px;top:404.5px;width:1.3999999999999773px;height:81.0px;background:linear-gradient(90deg,rgba(0,0,0,.11),rgba(0,0,0,.02));"></div>
<span class="t" style="left:85.60px;top:421.59px;font-size:16.2px;color:#fff;font-weight:bold;transform:scaleX(0.9778);">РЫНОК</span>
<span class="t" style="left:86.30px;top:463.29px;font-size:16.2px;color:#fff;font-weight:bold;transform:scaleX(0.9547);">УСТАНОВЛЕНО</span>
<span class="t" style="left:248.45px;top:421.39px;font-size:16.2px;color:#1f2a33;">Европа</span>
<span class="t" style="left:248.25px;top:460.49px;font-size:16.2px;color:#3ab4c8;">~</span>
<span class="t" style="left:262.71px;top:463.79px;font-size:16.2px;color:#3ab4c8;">3,440</span>
<span class="t" style="left:358.74px;top:410.89px;font-size:16.2px;color:#1f2a33;transform:scaleX(1.0100);">США /</span>
<span class="t" style="left:354.44px;top:432.09px;font-size:16.2px;color:#1f2a33;transform:scaleX(1.0100);">Канада</span>
<span class="t" style="left:354.45px;top:460.49px;font-size:16.2px;color:#3ab4c8;">~</span>
<span class="t" style="left:368.91px;top:463.79px;font-size:16.2px;color:#3ab4c8;">2,980</span>
<span class="t" style="left:447.57px;top:410.89px;font-size:16.2px;color:#1f2a33;transform:scaleX(1.0100);">Бл. Восток</span>
<span class="t" style="left:453.80px;top:432.09px;font-size:16.2px;color:#1f2a33;transform:scaleX(1.0100);">/ Африка</span>
<span class="t" style="left:467.10px;top:460.49px;font-size:16.2px;color:#3ab4c8;">~</span>
<span class="t" style="left:481.57px;top:463.79px;font-size:16.2px;color:#3ab4c8;">210</span>
<span class="t" style="left:571.00px;top:410.89px;font-size:16.2px;color:#1f2a33;transform:scaleX(1.0100);">Азия /</span>
<span class="t" style="left:561.10px;top:432.09px;font-size:16.2px;color:#1f2a33;transform:scaleX(1.0100);">Океания</span>
<span class="t" style="left:572.80px;top:460.49px;font-size:16.2px;color:#3ab4c8;">~</span>
<span class="t" style="left:587.27px;top:463.79px;font-size:16.2px;color:#3ab4c8;">390</span>
<span class="t" style="left:671.10px;top:410.89px;font-size:16.2px;color:#1f2a33;transform:scaleX(1.0476);">Южная</span>
<span class="t" style="left:664.60px;top:432.09px;font-size:16.2px;color:#1f2a33;transform:scaleX(1.0616);">Америка</span>
<span class="t" style="left:678.40px;top:460.49px;font-size:16.2px;color:#3ab4c8;">~</span>
<span class="t" style="left:692.87px;top:463.79px;font-size:16.2px;color:#3ab4c8;">245</span>
<span class="t" style="left:775.75px;top:421.39px;font-size:16.2px;color:#1f2a33;transform:scaleX(1.0536);">Прочие</span>
<span class="t" style="left:784.20px;top:460.49px;font-size:16.2px;color:#3ab4c8;">~</span>
<span class="t" style="left:798.67px;top:463.79px;font-size:16.2px;color:#3ab4c8;">100</span>
<span class="t" style="left:867.50px;top:434.99px;font-size:16.2px;color:#454545;font-weight:bold;">~</span>
<span class="t" style="left:881.96px;top:438.29px;font-size:16.2px;color:#454545;font-weight:bold;">7,365</span>
<span class="t" style="left:78.90px;top:527.89px;font-size:17.5px;color:#4a4a4a;font-weight:bold;transform:scaleX(1.0229);">СПЕЦПРОДУКТЫ</span>
<div class="b " style="left:647.2px;top:547.5px;width:82.79999999999995px;height:82.0px;background:#fff;box-shadow:1px 2px 2.4px rgba(0,0,0,.29);"></div>
<div class="b " style="left:76px;top:547.5px;width:571px;height:82.0px;background:#fff;box-shadow:1px 2px 2.4px rgba(0,0,0,.29);"></div>
<div class="b " style="left:647.2px;top:547.5px;width:82.79999999999995px;height:82.0px;background:#fff;"></div>
<div class="b " style="left:76px;top:547.5px;width:571px;height:82.0px;background:#fff;"></div>
<div class="b " style="left:76.6px;top:597.5px;width:147.0px;height:32.0px;background:#1fbcda;"></div>
<div class="b " style="left:76.1px;top:547.5px;width:146.8px;height:50.10000000000002px;background:#001b3a;"></div>
<div class="b " style="left:223.6px;top:596.9px;width:423.4px;height:3.2000000000000455px;background:linear-gradient(rgba(0,0,0,.14),rgba(0,0,0,.36) 30%,rgba(0,0,0,.16) 62%,rgba(0,0,0,0));"></div>
<div class="b " style="left:433.4px;top:548.5px;width:1.2000000000000455px;height:80.0px;background:rgba(0,0,0,.07);"></div>
<div class="b " style="left:539.6999999999999px;top:548.5px;width:1.2000000000000455px;height:80.0px;background:rgba(0,0,0,.07);"></div>
<div class="b " style="left:646.2px;top:547.5px;width:1.3999999999999773px;height:82.0px;background:linear-gradient(90deg,rgba(0,0,0,.11),rgba(0,0,0,.02));"></div>
<span class="t" style="left:85.60px;top:565.59px;font-size:16.2px;color:#fff;font-weight:bold;transform:scaleX(0.9778);">РЫНОК</span>
<span class="t" style="left:86.30px;top:607.29px;font-size:16.2px;color:#fff;font-weight:bold;transform:scaleX(0.9547);">УСТАНОВЛЕНО</span>
<span class="t" style="left:246.95px;top:554.89px;font-size:16.2px;color:#1f2a33;transform:scaleX(1.0357);">Европа / Бл. Восток /</span>
<span class="t" style="left:265.20px;top:576.09px;font-size:16.2px;color:#1f2a33;transform:scaleX(1.0123);">Африка / Россия</span>
<span class="t" style="left:312.26px;top:604.49px;font-size:16.2px;color:#3ab4c8;">~</span>
<span class="t" style="left:326.72px;top:607.79px;font-size:16.2px;color:#3ab4c8;">95</span>
<span class="t" style="left:453.10px;top:565.39px;font-size:16.2px;color:#1f2a33;transform:scaleX(1.0616);">Америка</span>
<span class="t" style="left:471.41px;top:604.49px;font-size:16.2px;color:#3ab4c8;">~</span>
<span class="t" style="left:485.87px;top:607.79px;font-size:16.2px;color:#3ab4c8;">40</span>
<span class="t" style="left:571.60px;top:554.89px;font-size:16.2px;color:#1f2a33;transform:scaleX(1.0100);">Азия /</span>
<span class="t" style="left:561.70px;top:576.09px;font-size:16.2px;color:#1f2a33;transform:scaleX(1.0100);">Океания</span>
<span class="t" style="left:573.40px;top:604.49px;font-size:16.2px;color:#3ab4c8;">~</span>
<span class="t" style="left:587.87px;top:607.79px;font-size:16.2px;color:#3ab4c8;">185</span>
<span class="t" style="left:657.10px;top:577.99px;font-size:16.2px;color:#454545;font-weight:bold;">~</span>
<span class="t" style="left:671.56px;top:581.29px;font-size:16.2px;color:#454545;font-weight:bold;">320</span>
<div class="b " style="left:760px;top:536.5px;width:188.5px;height:109.20000000000005px;background:#001b3a;box-shadow:4px 1.5px 4px rgba(0,0,0,.55);"></div>
<div class="b " style="left:776px;top:549px;width:9px;height:87.20000000000005px;background:#fff;"></div>
<span class="t" style="left:802.50px;top:546.12px;font-size:19.7px;color:#fff;transform:scaleX(1.0157);-webkit-text-stroke:0.3px #fff;">11,500 единиц</span>
<span class="t" style="left:789.30px;top:571.62px;font-size:19.7px;color:#fff;-webkit-text-stroke:0.3px #fff;">оборудования</span>
<span class="t" style="left:785.70px;top:597.02px;font-size:19.7px;color:#fff;transform:scaleX(0.9836);-webkit-text-stroke:0.3px #fff;">более чем в 80</span>
<span class="t" style="left:819.90px;top:622.72px;font-size:19.7px;color:#fff;transform:scaleX(0.9521);-webkit-text-stroke:0.3px #fff;">странах</span>
<span class="t" style="left:967.00px;top:693.47px;font-size:9.6px;color:#333;">6</span>
<svg width="1010" height="716" viewBox="0 0 1010 716" font-family="'Liberation Sans',sans-serif">
<path fill="#868686" d="M226.52 121.36 L225.78 120.44 L225.17 119.44 L224.67 118.37 L224.31 117.25 L224.09 116.10 L224.00 114.92 L224.06 113.75 L224.25 112.59 L224.59 111.46 L225.05 110.38 L225.64 109.37 L226.35 108.43 L227.17 107.58 L228.08 106.84 L229.08 106.21 L230.14 105.71 L231.26 105.34 L232.41 105.10 L233.58 105.00 L234.76 105.05 L235.92 105.23 L237.05 105.55 L238.13 106.01 L239.15 106.59 L240.10 107.29 L239.39 108.14 L238.48 107.62 L237.54 107.22 L236.56 106.94 L235.57 106.78 L234.59 106.75 L233.62 106.83 L232.69 107.03 L231.79 107.34 L230.96 107.74 L230.19 108.24 L229.53 108.85 L228.96 109.53 L228.50 110.26 L228.13 111.02 L227.87 111.81 L227.71 112.59 L227.66 113.38 L227.70 114.14 L227.84 114.87 L227.92 115.58 L227.95 116.31 L228.07 117.04 L228.28 117.76 L228.59 118.47 L228.98 119.14Z M241.08 108.24 L241.82 109.16 L242.43 110.16 L242.93 111.23 L243.29 112.35 L243.51 113.50 L243.60 114.68 L243.54 115.85 L243.35 117.01 L243.01 118.14 L242.55 119.22 L241.96 120.23 L241.25 121.17 L240.43 122.02 L239.52 122.76 L238.52 123.39 L237.46 123.89 L236.34 124.26 L235.19 124.50 L234.02 124.60 L232.84 124.55 L231.68 124.37 L230.55 124.05 L229.47 123.59 L228.45 123.01 L227.50 122.31 L228.21 121.46 L229.12 121.98 L230.06 122.38 L231.04 122.66 L232.03 122.82 L233.01 122.85 L233.98 122.77 L234.91 122.57 L235.81 122.26 L236.64 121.86 L237.41 121.36 L238.07 120.75 L238.64 120.07 L239.10 119.34 L239.47 118.58 L239.73 117.79 L239.89 117.01 L239.94 116.22 L239.90 115.46 L239.76 114.73 L239.68 114.02 L239.65 113.29 L239.53 112.56 L239.32 111.84 L239.01 111.13 L238.62 110.46Z"/><circle cx="233.80" cy="114.80" r="4.02" fill="#868686"/><text x="248.7" y="119.8" font-size="12.4" font-weight="bold" font-style="italic" fill="#868686" textLength="50.5" lengthAdjust="spacingAndGlyphs">TITECH</text><text x="299.7" y="114.2" font-size="3.5" fill="#868686">®</text>
<rect x="224.5" y="380.5" width="124" height="21" fill="#fff"/>
<circle cx="228.30" cy="390.20" r="2.90" fill="#858585"/><circle cx="236.60" cy="390.00" r="3.00" fill="#858585"/><circle cx="235.50" cy="382.20" r="1.80" fill="#858585"/><circle cx="229.40" cy="397.50" r="1.90" fill="#858585"/><text x="243.8" y="393.7" font-size="9.6" font-weight="bold" fill="#858585" textLength="54.5" lengthAdjust="spacingAndGlyphs">ODENBERG</text>
<text x="309.8" y="394.21" font-size="10.81" font-family="'DejaVu Sans','Liberation Sans',sans-serif" font-weight="bold" fill="#858585" textLength="8.8" lengthAdjust="spacingAndGlyphs">✱</text><text x="318.85" y="394" font-size="10.6" font-weight="bold" fill="#858585" stroke="#858585" stroke-width="0.35" textLength="25.9" lengthAdjust="spacingAndGlyphs">BEST</text>
<text x="291.5" y="539.19" font-size="9.89" font-family="'DejaVu Sans','Liberation Sans',sans-serif" font-weight="bold" fill="#a2a2a2" textLength="8.0" lengthAdjust="spacingAndGlyphs">✱</text><text x="299.75" y="539.0" font-size="9.7" font-weight="bold" fill="#a2a2a2" stroke="#a2a2a2" stroke-width="0.35" textLength="23.6" lengthAdjust="spacingAndGlyphs">BEST</text>
<path fill="#555" d="M718.48 702.78 L717.93 702.10 L717.47 701.35 L717.10 700.56 L716.83 699.73 L716.66 698.87 L716.60 697.99 L716.64 697.12 L716.79 696.25 L717.04 695.41 L717.38 694.61 L717.83 693.85 L718.35 693.15 L718.96 692.52 L719.64 691.97 L720.38 691.50 L721.17 691.13 L722.01 690.85 L722.86 690.67 L723.74 690.60 L724.61 690.63 L725.48 690.77 L726.32 691.01 L727.13 691.35 L727.89 691.79 L728.59 692.31 L728.06 692.94 L727.39 692.55 L726.68 692.25 L725.96 692.04 L725.22 691.93 L724.49 691.90 L723.77 691.96 L723.07 692.11 L722.41 692.34 L721.78 692.64 L721.21 693.01 L720.72 693.47 L720.30 693.98 L719.95 694.52 L719.68 695.09 L719.48 695.67 L719.37 696.26 L719.33 696.84 L719.36 697.41 L719.46 697.96 L719.52 698.48 L719.54 699.03 L719.63 699.57 L719.79 700.11 L720.02 700.63 L720.31 701.13Z M729.32 693.02 L729.87 693.70 L730.33 694.45 L730.70 695.24 L730.97 696.07 L731.14 696.93 L731.20 697.81 L731.16 698.68 L731.01 699.55 L730.76 700.39 L730.42 701.19 L729.97 701.95 L729.45 702.65 L728.84 703.28 L728.16 703.83 L727.42 704.30 L726.63 704.67 L725.79 704.95 L724.94 705.13 L724.06 705.20 L723.19 705.17 L722.32 705.03 L721.48 704.79 L720.67 704.45 L719.91 704.01 L719.21 703.49 L719.74 702.86 L720.41 703.25 L721.12 703.55 L721.84 703.76 L722.58 703.87 L723.31 703.90 L724.03 703.84 L724.73 703.69 L725.39 703.46 L726.02 703.16 L726.59 702.79 L727.08 702.33 L727.50 701.82 L727.85 701.28 L728.12 700.71 L728.32 700.13 L728.43 699.54 L728.47 698.96 L728.44 698.39 L728.34 697.84 L728.28 697.32 L728.26 696.77 L728.17 696.23 L728.01 695.69 L727.78 695.17 L727.49 694.67Z"/><circle cx="723.90" cy="697.90" r="2.99" fill="#555"/><text x="735" y="701.7" font-size="10.3" font-weight="bold" font-style="italic" fill="#555" textLength="34.8" lengthAdjust="spacingAndGlyphs">TITECH</text>
<path d="M781.6 697.9 L790.2 693.6 L788.4 703.9 Z" fill="none" stroke="#555" stroke-width="2.2" stroke-linejoin="round"/>
<text x="794.3" y="697.9" font-size="6.4" fill="#555" textLength="36.7" lengthAdjust="spacingAndGlyphs">commodas</text>
<text x="804" y="704" font-size="6.4" font-weight="bold" fill="#555" textLength="27" lengthAdjust="spacingAndGlyphs">ultrasort</text>
<circle cx="841.90" cy="698.00" r="2.17" fill="#555"/><circle cx="848.12" cy="697.85" r="2.25" fill="#555"/><circle cx="847.30" cy="692.00" r="1.35" fill="#555"/><circle cx="842.73" cy="703.48" r="1.42" fill="#555"/><text x="854" y="700.9" font-size="7.7" font-weight="bold" fill="#555" textLength="44.0" lengthAdjust="spacingAndGlyphs">ODENBERG</text>
<text x="906" y="701.88" font-size="9.18" font-family="'DejaVu Sans','Liberation Sans',sans-serif" font-weight="bold" fill="#555" textLength="7.2" lengthAdjust="spacingAndGlyphs">✱</text><text x="913.45" y="701.7" font-size="9" font-weight="bold" fill="#555" stroke="#555" stroke-width="0.35" textLength="21.2" lengthAdjust="spacingAndGlyphs">BEST</text>
<defs><linearGradient id="tg" x1="0" y1="0" x2="0" y2="1"><stop offset="0" stop-color="#0b3a78"/><stop offset="1" stop-color="#1552ad"/></linearGradient></defs>
<path d="M71.7 689.6 L74.4 687 L79.6 687 L79.6 708.2 L71.7 708.2Z" fill="url(#tg)"/>
<path d="M78.8 687 L92.6 687 L92.6 694.6 L85.6 694.6 L79.4 689.3Z" fill="#1cc0e0"/>
<path d="M79.5 689.4 L92.2 702.4 L86.6 707.7 L79.5 700.4Z" fill="#19a3e2"/>
<text x="96.6" y="697.4" font-size="13.6" font-weight="bold" fill="#111" textLength="64.2" lengthAdjust="spacingAndGlyphs">TOMRA</text>
<text x="96.9" y="708.0" font-size="8.2" fill="#5a5a5a" textLength="78.6" lengthAdjust="spacingAndGlyphs">SORTING SOLUTIONS</text>
</svg>
</body></html>
